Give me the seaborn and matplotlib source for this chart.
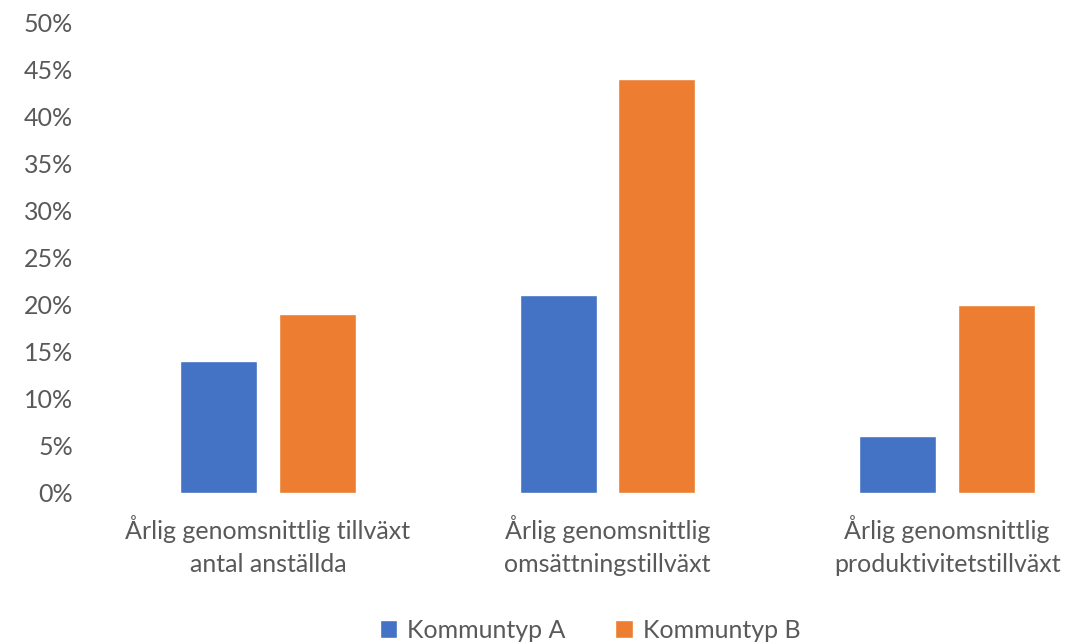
import pandas as pd
import matplotlib.pyplot as plt
import seaborn as sns
from matplotlib.patches import Patch
from matplotlib.ticker import PercentFormatter

# === Data ===
kategorier = [
    "Årlig genomsnittlig tillväxt\nantal anställda",
    "Årlig genomsnittlig\nomsättningstillväxt",
    "Årlig genomsnittlig\nproduktivitetstillväxt",
]
serier = ["Kommuntyp A", "Kommuntyp B"]
kommuntyp_a = [0.14, 0.21, 0.06]
kommuntyp_b = [0.19, 0.44, 0.20]
farger = ["#4472C4", "#ED7D31"]

df = pd.DataFrame({
    "Kategori": kategorier * 2,
    "Serie": [serier[0]] * 3 + [serier[1]] * 3,
    "Varde": kommuntyp_a + kommuntyp_b,
})

sns.set_style("white")
plt.rcParams["font.family"] = ["Lato", "DejaVu Sans"]
textfarg = "#595959"

fig = plt.figure(figsize=(10.72, 6.42), dpi=100)
ax = fig.add_axes([98 / 1072, 149 / 642, 1019 / 1072, 471 / 642])

sns.barplot(data=df, x="Kategori", y="Varde", hue="Serie", palette=farger,
            width=0.582, gap=0.22, ax=ax, legend=False, saturation=1)

ax.set_ylim(0, 0.5)
ax.set_xlim(-0.5, 2.5)
ax.yaxis.set_major_formatter(PercentFormatter(1.0, decimals=0))
ax.set_yticks([i / 100 for i in range(0, 51, 5)])
ax.set_xlabel("")
ax.set_ylabel("")
sns.despine(ax=ax, left=True, bottom=True, top=True, right=True)
ax.tick_params(axis="y", labelsize=18, colors=textfarg, length=0, pad=18)
ax.tick_params(axis="x", labelsize=18, colors=textfarg, length=0, pad=16)
for lbl in ax.get_xticklabels():
    lbl.set_linespacing(1.5)

handles = [Patch(facecolor=c, label=s) for c, s in zip(farger, serier)]
fig.legend(handles=handles, loc="center", bbox_to_anchor=(590 / 1072, 1 - 630 / 642),
           ncol=2, frameon=False, fontsize=18, handlelength=0.7, handleheight=0.7,
           handletextpad=0.4, columnspacing=2.0, labelcolor=textfarg)

fig.savefig("out.png", dpi=100)
